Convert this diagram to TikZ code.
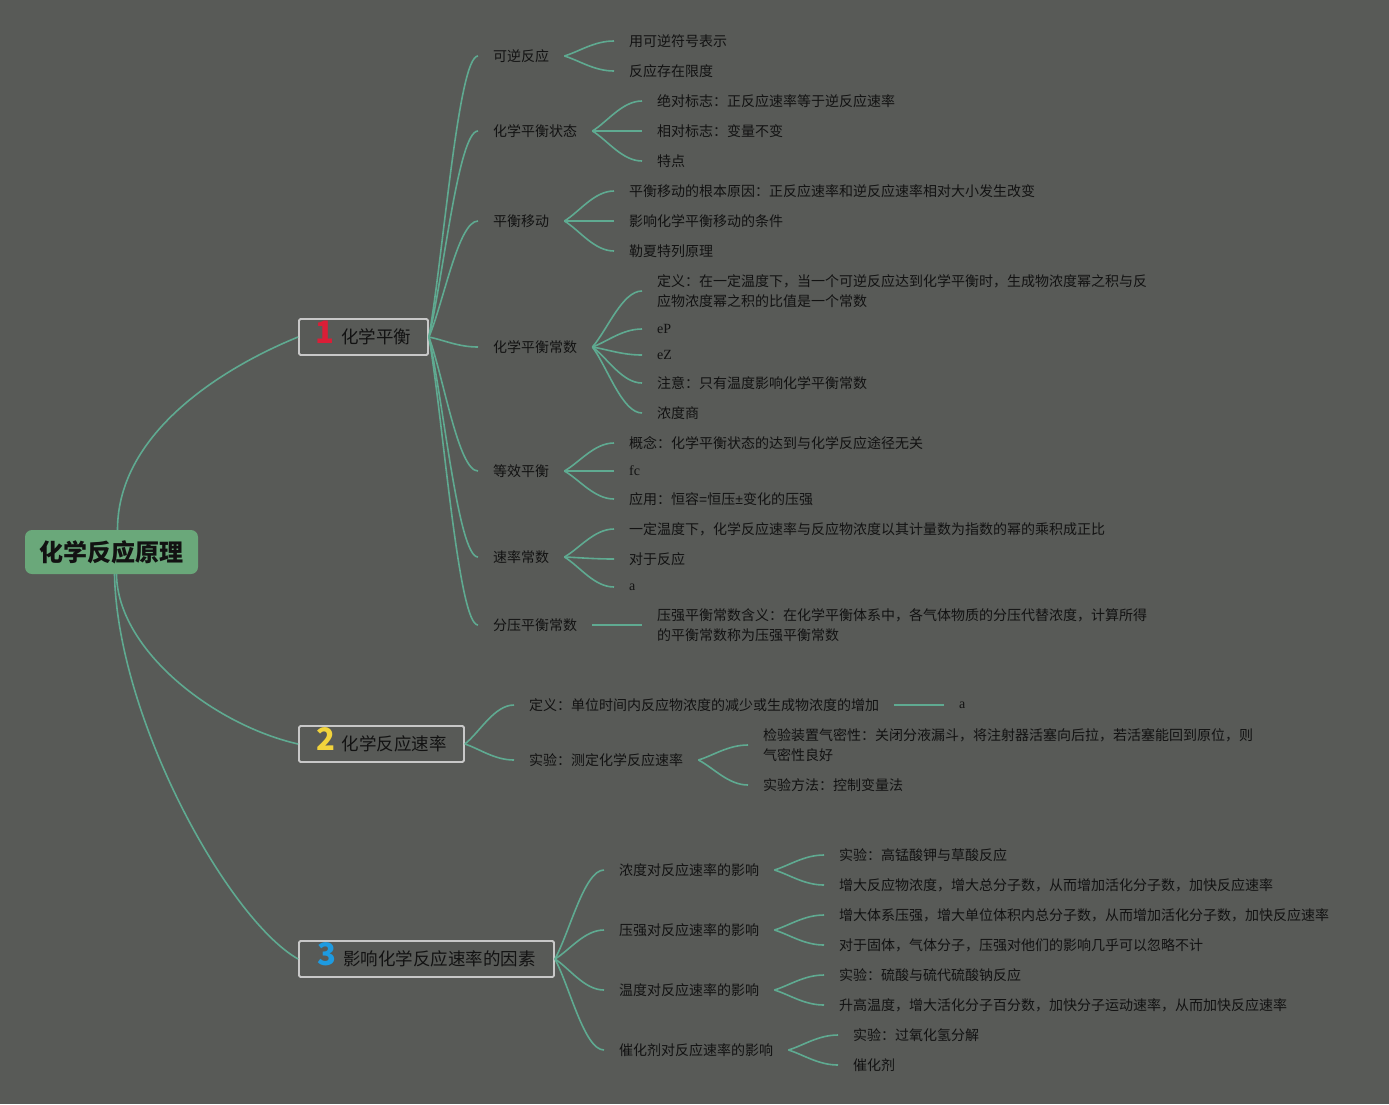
\documentclass[tikz,border=0pt]{standalone}
\usepackage{fontspec}
\setmainfont{Noto Sans CJK SC}
\newfontfamily\latserif{Liberation Serif}
\newfontfamily\latsans{Liberation Sans}
\usetikzlibrary{calc}
\definecolor{bgc}{RGB}{88,90,87}
\definecolor{linec}{RGB}{95,170,145}
\definecolor{rootc}{RGB}{106,168,122}
\definecolor{boxc}{RGB}{200,200,200}
\definecolor{txtc}{RGB}{18,18,18}
\definecolor{numred}{RGB}{218,30,55}
\definecolor{numyel}{RGB}{242,212,60}
\definecolor{numblue}{RGB}{30,155,225}
\tikzset{
  conn/.style={draw=linec, line width=1.6pt},
  leaf/.style={anchor=west, inner xsep=15pt, inner ysep=2pt, text=txtc, align=left,
    font=\fontsize{14}{20}\selectfont},
  branchbox/.style={draw=boxc, line width=1.8pt, rounded corners=1.5pt, minimum height=36pt, inner sep=0pt,
    text=txtc, font=\fontsize{17.5}{20}\selectfont},
  rootbox/.style={fill=rootc, rounded corners=7pt, minimum width=173pt, minimum height=44pt,
    text=txtc, font=\fontsize{24}{26}\selectfont\bfseries}
}
\newcommand\fanline[2]{\draw[conn] let \p1=(#1), \p2=(#2) in (\p1) .. controls ({\x1+0.3*(\x2-\x1)},{\y1+0.3*(\y2-\y1)}) and ({\x2-0.4*(\x2-\x1)},{\y2}) .. (\p2);}
\newcommand\bignum[2]{\smash{\color{#1}\fontsize{31}{31}\selectfont\bfseries #2}\hspace{7pt}}
\begin{document}
\begin{tikzpicture}[x=1pt,y=-1pt]
\useasboundingbox (0,0) rectangle (1389,1104);
\fill[bgc] (0,0) rectangle (1389,1104);

% root and main branches
\node[rootbox] (root) at (111.5,552) {化学反应原理};
\node[branchbox, minimum width=129pt] (b1) at (363.5,337) {\bignum{numred}{1}化学平衡};
\node[branchbox, minimum width=165pt] (b2) at (381.5,744) {\bignum{numyel}{2}化学反应速率};
\node[branchbox, minimum width=255pt] (b3) at (426.5,959) {\bignum{numblue}{3}影响化学反应速率的因素};

\draw[conn] ([xshift=6pt]root.north) .. controls +(0,-100) and +(-69,28) .. (b1.west);
\draw[conn] ([xshift=5pt]root.south) .. controls +(1,76) and +(-84,-19) .. (b2.west);
\draw[conn] ([xshift=3pt]root.south) .. controls +(3,146) and +(-69,-39) .. (b3.west);

% branch 1 children
\node[leaf] (c11) at (478,56) {可逆反应};
\node[leaf] (c12) at (478,131) {化学平衡状态};
\node[leaf] (c13) at (478,221) {平衡移动};
\node[leaf] (c14) at (478,347) {化学平衡常数};
\node[leaf] (c15) at (478,471) {等效平衡};
\node[leaf] (c16) at (478,557) {速率常数};
\node[leaf] (c17) at (478,625) {分压平衡常数};
\foreach \c in {c11,c12,c13,c14,c15,c16,c17}{\fanline{b1.east}{\c.west}}

\node[leaf] (l111) at (614,41) {用可逆符号表示};
\node[leaf] (l112) at (614,71) {反应存在限度};
\fanline{c11.east}{l111.west}\fanline{c11.east}{l112.west}

\node[leaf] (l121) at (642,101) {绝对标志：正反应速率等于逆反应速率};
\node[leaf] (l122) at (642,131) {相对标志：变量不变};
\node[leaf] (l123) at (642,161) {特点};
\fanline{c12.east}{l121.west}\fanline{c12.east}{l122.west}\fanline{c12.east}{l123.west}

\node[leaf] (l131) at (614,191) {平衡移动的根本原因：正反应速率和逆反应速率相对大小发生改变};
\node[leaf] (l132) at (614,221) {影响化学平衡移动的条件};
\node[leaf] (l133) at (614,251) {勒夏特列原理};
\fanline{c13.east}{l131.west}\fanline{c13.east}{l132.west}\fanline{c13.east}{l133.west}

\node[leaf] (l141) at (642,291) {定义：在一定温度下，当一个可逆反应达到化学平衡时，生成物浓度幂之积与反\\应物浓度幂之积的比值是一个常数};
\node[leaf] (l142) at (642,329) {\latserif eP};
\node[leaf] (l143) at (642,355) {\latserif eZ};
\node[leaf] (l144) at (642,383) {注意：只有温度影响化学平衡常数};
\node[leaf] (l145) at (642,413) {浓度商};
\foreach \l in {l141,l142,l143,l144,l145}{\fanline{c14.east}{\l.west}}

\node[leaf] (l151) at (614,443) {概念：化学平衡状态的达到与化学反应途径无关};
\node[leaf] (l152) at (614,471) {\latserif fc};
\node[leaf] (l153) at (614,499) {应用：恒容{\latsans =}恒压{\latsans ±}变化的压强};
\foreach \l in {l151,l152,l153}{\fanline{c15.east}{\l.west}}

\node[leaf] (l161) at (614,529) {一定温度下，化学反应速率与反应物浓度以其计量数为指数的幂的乘积成正比};
\node[leaf] (l162) at (614,559) {对于反应};
\node[leaf] (l163) at (614,587) {\latserif a};
\foreach \l in {l161,l162,l163}{\fanline{c16.east}{\l.west}}

\node[leaf] (l171) at (642,625) {压强平衡常数含义：在化学平衡体系中，各气体物质的分压代替浓度，计算所得\\的平衡常数称为压强平衡常数};
\fanline{c17.east}{l171.west}

% branch 2
\node[leaf] (c21) at (514,705) {定义：单位时间内反应物浓度的减少或生成物浓度的增加};
\node[leaf] (c22) at (514,760) {实验：测定化学反应速率};
\fanline{b2.east}{c21.west}\fanline{b2.east}{c22.west}
\node[leaf] (l211) at (944,705) {\latserif a};
\fanline{c21.east}{l211.west}
\node[leaf] (l221) at (748,745) {检验装置气密性：关闭分液漏斗，将注射器活塞向后拉，若活塞能回到原位，则\\气密性良好};
\node[leaf] (l222) at (748,785) {实验方法：控制变量法};
\fanline{c22.east}{l221.west}\fanline{c22.east}{l222.west}

% branch 3
\node[leaf] (c31) at (604,870) {浓度对反应速率的影响};
\node[leaf] (c32) at (604,930) {压强对反应速率的影响};
\node[leaf] (c33) at (604,990) {温度对反应速率的影响};
\node[leaf] (c34) at (604,1050) {催化剂对反应速率的影响};
\foreach \c in {c31,c32,c33,c34}{\fanline{b3.east}{\c.west}}

\node[leaf] (l311) at (824,855) {实验：高锰酸钾与草酸反应};
\node[leaf] (l312) at (824,885) {增大反应物浓度，增大总分子数，从而增加活化分子数，加快反应速率};
\fanline{c31.east}{l311.west}\fanline{c31.east}{l312.west}
\node[leaf] (l321) at (824,915) {增大体系压强，增大单位体积内总分子数，从而增加活化分子数，加快反应速率};
\node[leaf] (l322) at (824,945) {对于固体，气体分子，压强对他们的影响几乎可以忽略不计};
\fanline{c32.east}{l321.west}\fanline{c32.east}{l322.west}
\node[leaf] (l331) at (824,975) {实验：硫酸与硫代硫酸钠反应};
\node[leaf] (l332) at (824,1005) {升高温度，增大活化分子百分数，加快分子运动速率，从而加快反应速率};
\fanline{c33.east}{l331.west}\fanline{c33.east}{l332.west}
\node[leaf] (l341) at (838,1035) {实验：过氧化氢分解};
\node[leaf] (l342) at (838,1065) {催化剂};
\fanline{c34.east}{l341.west}\fanline{c34.east}{l342.west}
\end{tikzpicture}
\end{document}
